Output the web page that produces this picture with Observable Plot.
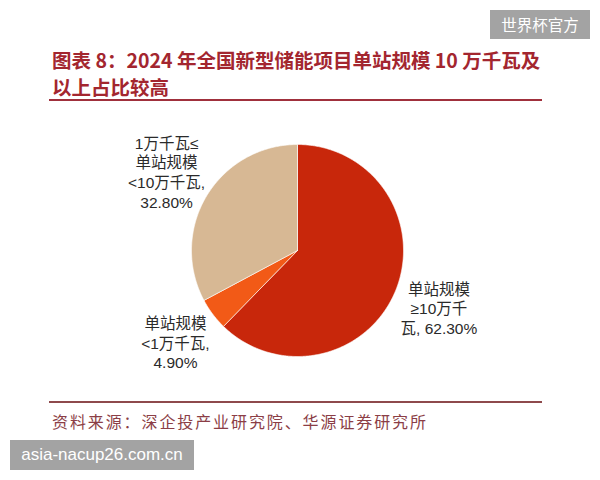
<!DOCTYPE html>
<html>
<head>
<meta charset="utf-8">
<script src="https://cdn.jsdelivr.net/npm/d3@7"></script>
<script src="https://cdn.jsdelivr.net/npm/@observablehq/plot@0.6"></script>
<style>
  html, body { margin: 0; padding: 0; background: #fff; }
  #page { position: relative; width: 600px; height: 480px; overflow: hidden; background: #fff;
    font-family: "Liberation Sans", "Noto Sans CJK SC", sans-serif; }
  .title { position: absolute; left: 52px; width: 520px; color: #A3262F; white-space: nowrap;
    font-family: "Noto Sans CJK SC", sans-serif; font-weight: 700; font-size: 19.5px; line-height: 24px; }
  .rule { position: absolute; left: 49px; width: 493px; height: 2px; }
  .source { position: absolute; left: 52px; top: 409px; color: #8B3E46;
    font-family: "Noto Sans CJK SC", sans-serif; font-size: 16px; letter-spacing: 1.9px; }
  .wm { position: absolute; background: #A3A3A3; color: #fff; text-align: center; }
  #chart { position: absolute; left: 0; top: 105px; }
</style>
</head>
<body>
<div id="page">
  <div class="wm" style="left:490px;top:10px;width:100px;height:29px;line-height:29px;font-family:'Noto Sans CJK SC',sans-serif;font-size:15.5px;">世界杯官方</div>
  <div class="title" style="top:48px;">图表 8：2024 年全国新型储能项目单站规模 10 万千瓦及</div>
  <div class="title" style="top:75px;">以上占比较高</div>
  <div class="rule" style="top:99px;background:#A0303C;"></div>
  <div id="chart"></div>
  <div class="rule" style="top:401px;background:#8E4A4C;"></div>
  <div class="source">资料来源：深企投产业研究院、华源证券研究所</div>
  <div class="wm" style="left:10px;top:440px;width:184px;height:30px;line-height:30px;font-family:'Liberation Sans',sans-serif;font-size:17px;">asia-nacup26.com.cn</div>
</div>
<script>
// Data
const categories = ["单站规模\n≥10万千\n瓦, 62.30%", "单站规模\n<1万千瓦,\n4.90%", "1万千瓦≤\n单站规模\n<10万千瓦,\n32.80%"];
const keys = ["≥10万千瓦", "<1万千瓦", "1-10万千瓦"];
const values = [62.3, 4.9, 32.8];
const colors = ["#C8270B", "#F25A17", "#D7B894"];

const arcs = d3.pie().sort(null).value(d => d)(values);

// polygon points for each slice (geometry derived from pie angles)
const polyPts = [];
arcs.forEach((a, i) => {
  polyPts.push({k: keys[i], x: 0, y: 0});
  const n = Math.max(2, Math.ceil((a.endAngle - a.startAngle) / 0.01));
  for (let j = 0; j <= n; j++) {
    const t = a.startAngle + (a.endAngle - a.startAngle) * j / n;
    polyPts.push({k: keys[i], x: Math.sin(t), y: Math.cos(t)});
  }
  polyPts.push({k: keys[i], x: 0, y: 0});
});

const labelR = 1.44;
const labels = arcs.map((a, i) => {
  const m = (a.startAngle + a.endAngle) / 2;
  return {text: categories[i], x: labelR * Math.sin(m), y: labelR * Math.cos(m)};
});

const chart = Plot.plot({
  width: 600,
  height: 290,
  marginLeft: 191,
  marginRight: 197,
  marginTop: 39,
  marginBottom: 39,
  x: {domain: [-1, 1], axis: null},
  y: {domain: [-1, 1], axis: null},
  color: {domain: keys, range: colors},
  style: {background: "transparent", overflow: "visible"},
  marks: [
    Plot.line(polyPts, {x: "x", y: "y", z: "k", fill: "k", stroke: "#fff", strokeWidth: 0.6, curve: "linear"}),
    Plot.text(labels, {x: "x", y: "y", text: "text", textAnchor: "middle", lineHeight: 1.28,
      fontSize: 15.5, fill: "#2a2a2a", fontFamily: "'Liberation Sans','Noto Sans CJK SC',sans-serif"})
  ]
});
document.getElementById("chart").appendChild(chart);
</script>
</body>
</html>
